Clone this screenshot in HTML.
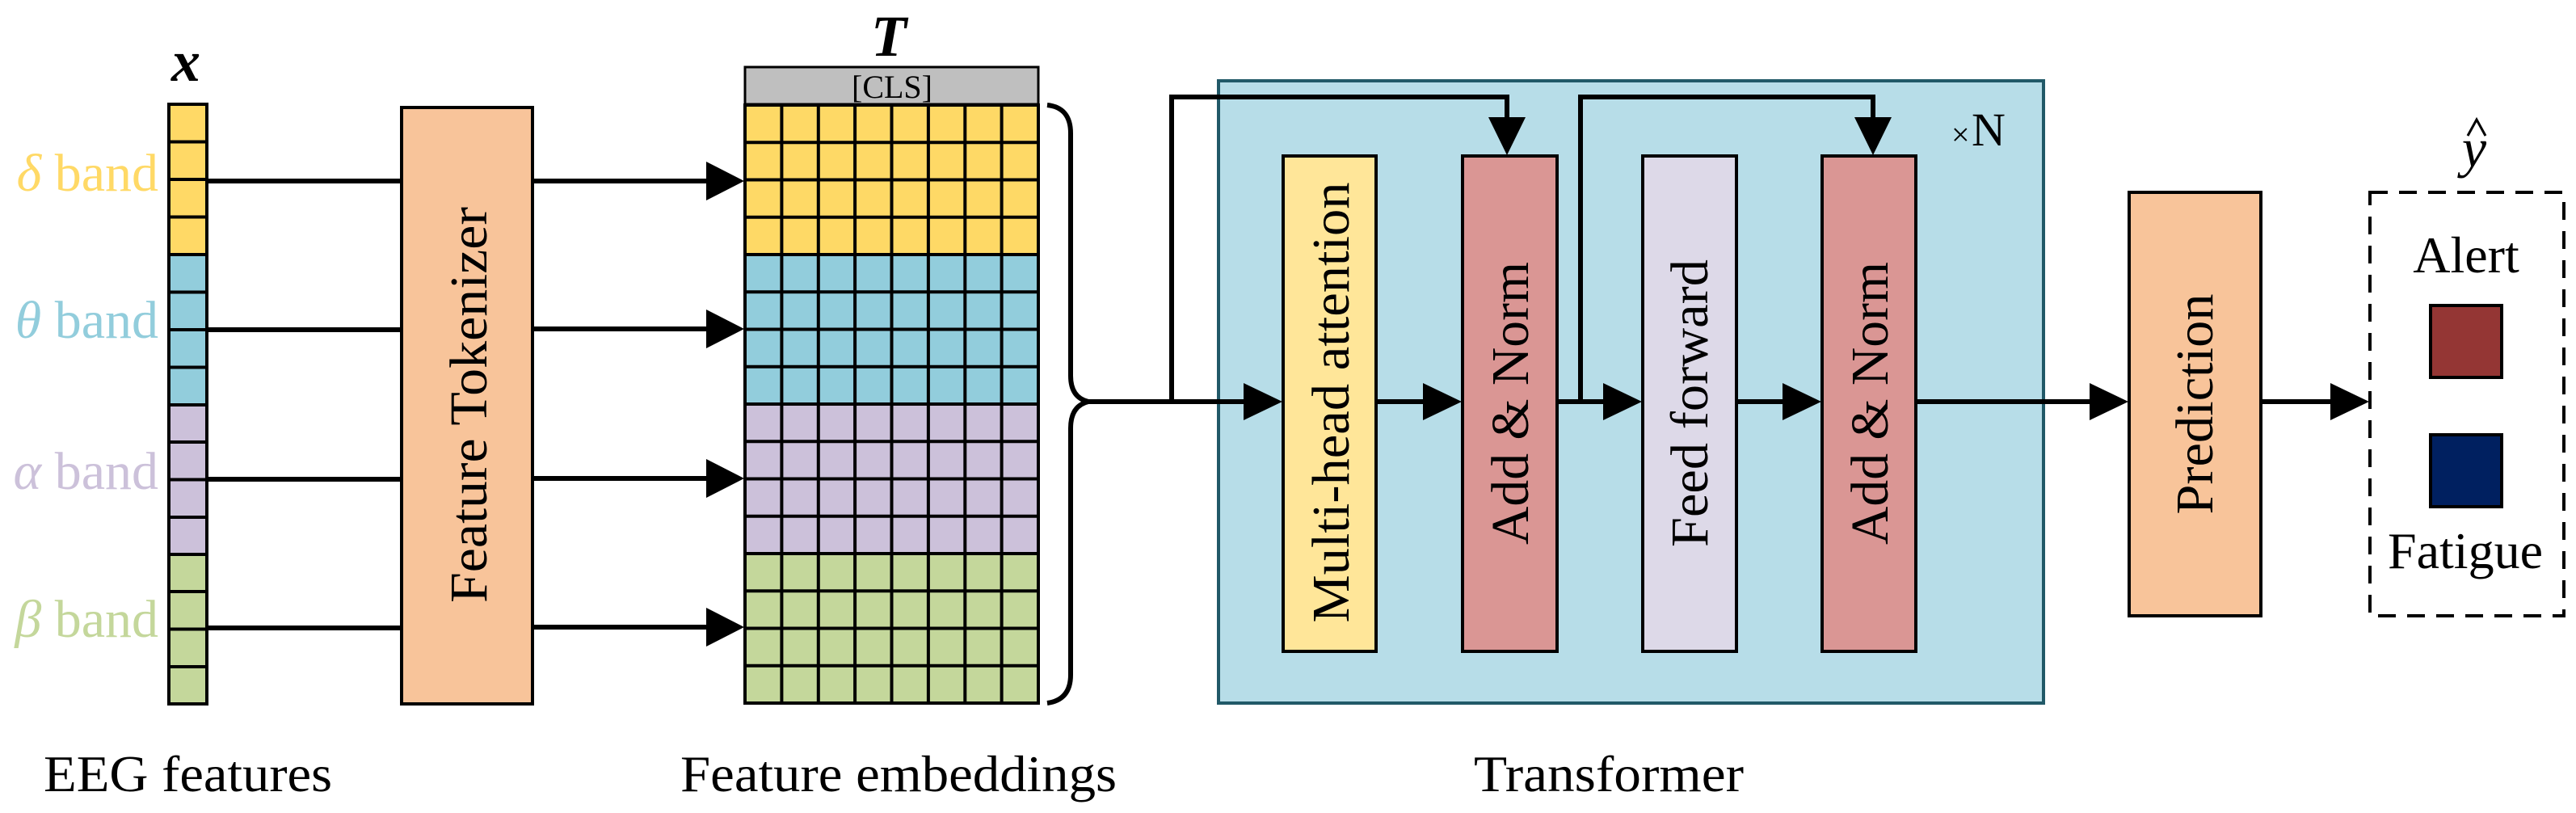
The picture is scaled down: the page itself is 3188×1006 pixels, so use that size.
<!DOCTYPE html>
<html><head><meta charset="utf-8"><style>html,body{margin:0;padding:0;background:#fff}svg{display:block}svg text{font-family:"Liberation Serif",serif}</style></head>
<body>
<svg xmlns="http://www.w3.org/2000/svg" width="3188" height="1006" viewBox="0 0 3188 1006">
<g stroke="#000" stroke-width="4">
<rect x="209" y="129" width="47" height="186" fill="#FFD966"/>
<rect x="209" y="315" width="47" height="186" fill="#92CDDC"/>
<rect x="209" y="501" width="47" height="185" fill="#CCC1DA"/>
<rect x="209" y="686" width="47" height="185" fill="#C4D79B"/>
</g>
<g stroke="#000" stroke-width="4">
<line x1="209" x2="256" y1="175.5" y2="175.5"/><line x1="209" x2="256" y1="222" y2="222"/><line x1="209" x2="256" y1="268.5" y2="268.5"/>
<line x1="209" x2="256" y1="361.5" y2="361.5"/><line x1="209" x2="256" y1="408" y2="408"/><line x1="209" x2="256" y1="454.5" y2="454.5"/>
<line x1="209" x2="256" y1="547" y2="547"/><line x1="209" x2="256" y1="593.5" y2="593.5"/><line x1="209" x2="256" y1="640" y2="640"/>
<line x1="209" x2="256" y1="732" y2="732"/><line x1="209" x2="256" y1="778.5" y2="778.5"/><line x1="209" x2="256" y1="825" y2="825"/>
</g>
<text x="230" y="100" font-size="72" font-weight="bold" font-style="italic" text-anchor="middle">x</text>
<g font-size="66" text-anchor="end">
<text x="196" y="236" fill="#FFD966"><tspan font-style="italic">δ</tspan> band</text>
<text x="196" y="418" fill="#92CDDC"><tspan font-style="italic">θ</tspan> band</text>
<text x="196" y="605" fill="#CCC1DA"><tspan font-style="italic">α</tspan> band</text>
<text x="196" y="788" fill="#C4D79B"><tspan font-style="italic">β</tspan> band</text>
</g>
<g stroke="#000" stroke-width="6">
<line x1="256" x2="497" y1="224" y2="224"/><line x1="256" x2="497" y1="408" y2="408"/>
<line x1="256" x2="497" y1="593" y2="593"/><line x1="256" x2="497" y1="777" y2="777"/>
</g>
<rect x="497" y="133" width="162" height="738" fill="#F8C49A" stroke="#000" stroke-width="4"/>
<text transform="translate(602,501) rotate(-90)" font-size="66" text-anchor="middle" textLength="490" lengthAdjust="spacingAndGlyphs">Feature Tokenizer</text>
<g stroke="#000" stroke-width="6">
<line x1="659" x2="880" y1="224" y2="224"/><line x1="659" x2="880" y1="407" y2="407"/>
<line x1="659" x2="880" y1="592" y2="592"/><line x1="659" x2="880" y1="776" y2="776"/>
</g>
<g fill="#000">
<polygon points="874,200 921,224 874,248"/><polygon points="874,383 921,407 874,431"/>
<polygon points="874,568 921,592 874,616"/><polygon points="874,752 921,776 874,800"/>
</g>
<rect x="922" y="83" width="363" height="46" fill="#BFBFBF" stroke="#000" stroke-width="3"/>
<text x="1104" y="121" font-size="40" text-anchor="middle">[CLS]</text>
<rect x="922" y="130" width="363" height="185" fill="#FED966"/>
<rect x="922" y="315" width="363" height="185" fill="#92CDDC"/>
<rect x="922" y="500" width="363" height="185" fill="#CCC1DA"/>
<rect x="922" y="685" width="363" height="185" fill="#C4D79B"/>
<g stroke="#000" stroke-width="4" fill="none">
<rect x="922" y="130" width="363" height="740"/>
<path d="M967.4 130V870M1012.8 130V870M1058.1 130V870M1103.5 130V870M1148.9 130V870M1194.3 130V870M1239.6 130V870"/>
<path d="M922 176.3H1285M922 222.5H1285M922 268.8H1285M922 315H1285M922 361.3H1285M922 407.5H1285M922 453.8H1285M922 500H1285M922 546.3H1285M922 592.5H1285M922 638.8H1285M922 685H1285M922 731.3H1285M922 777.5H1285M922 823.8H1285"/>
</g>
<text x="1100" y="69" font-size="72" font-weight="bold" font-style="italic" text-anchor="middle">T</text>
<path d="M1296 130 Q1325 133 1325 165 V465 Q1325 492 1347 497 Q1325 502 1325 530 V835 Q1325 866 1296 870" fill="none" stroke="#000" stroke-width="6"/>
<rect x="1508" y="100" width="1021" height="770" fill="#B7DDE8" stroke="#215968" stroke-width="4"/>
<text x="2415" y="180" font-size="40">×</text><text x="2440" y="180" font-size="58">N</text>
<g stroke="#000" stroke-width="4">
<rect x="1588" y="193" width="115" height="613" fill="#FFE699"/>
<rect x="1810" y="193" width="117" height="613" fill="#DA9694"/>
<rect x="2033" y="193" width="116" height="613" fill="#DDD9E8"/>
<rect x="2255" y="193" width="116" height="613" fill="#DA9694"/>
<rect x="2635" y="238" width="163" height="524" fill="#F8C49A"/>
</g>
<g font-size="66" text-anchor="middle">
<text transform="translate(1669,498) rotate(-90)" textLength="545" lengthAdjust="spacingAndGlyphs">Multi-head attention</text>
<text transform="translate(1891,499) rotate(-90)" textLength="350" lengthAdjust="spacingAndGlyphs">Add &amp; Norm</text>
<text transform="translate(2113,499) rotate(-90)" textLength="356" lengthAdjust="spacingAndGlyphs">Feed forward</text>
<text transform="translate(2336,499) rotate(-90)" textLength="350" lengthAdjust="spacingAndGlyphs">Add &amp; Norm</text>
<text transform="translate(2738,500) rotate(-90)" textLength="273" lengthAdjust="spacingAndGlyphs">Prediction</text>
</g>
<g stroke="#000" stroke-width="6" fill="none">
<path d="M1347 497H1545"/>
<path d="M1450 497V120H1865V150"/>
<path d="M1703 497H1765"/>
<path d="M1927 497H1988"/>
<path d="M1956 497V120H2318V150"/>
<path d="M2149 497H2210"/>
<path d="M2371 497H2592"/>
<path d="M2798 497H2890"/>
</g>
<g fill="#000">
<polygon points="1539,474 1587,497 1539,520"/>
<polygon points="1761,474 1809,497 1761,520"/>
<polygon points="1984,474 2032,497 1984,520"/>
<polygon points="2206,474 2254,497 2206,520"/>
<polygon points="2586,474 2634,497 2586,520"/>
<polygon points="2884,474 2932,497 2884,520"/>
<polygon points="1842,145 1888,145 1865,192"/>
<polygon points="2295,145 2341,145 2318,192"/>
</g>
<rect x="2933" y="238" width="240" height="524" fill="none" stroke="#000" stroke-width="4" stroke-dasharray="22,14"/>
<text x="3062" y="206" font-size="68" font-style="italic" text-anchor="middle">y</text>
<path d="M3054 168 L3065 148 L3076 168" fill="none" stroke="#000" stroke-width="3"/>
<text x="3052" y="337" font-size="64" text-anchor="middle">Alert</text>
<rect x="3008" y="378" width="88" height="89" fill="#943634" stroke="#000" stroke-width="4"/>
<rect x="3008" y="538" width="88" height="89" fill="#002060" stroke="#000" stroke-width="4"/>
<text x="3051" y="703" font-size="64" text-anchor="middle">Fatigue</text>
<g font-size="64">
<text x="54" y="979" textLength="357" lengthAdjust="spacingAndGlyphs">EEG features</text>
<text x="842" y="979" textLength="540" lengthAdjust="spacingAndGlyphs">Feature embeddings</text>
<text x="1824" y="979" textLength="334" lengthAdjust="spacingAndGlyphs">Transformer</text>
</g>
</svg>
</body></html>
